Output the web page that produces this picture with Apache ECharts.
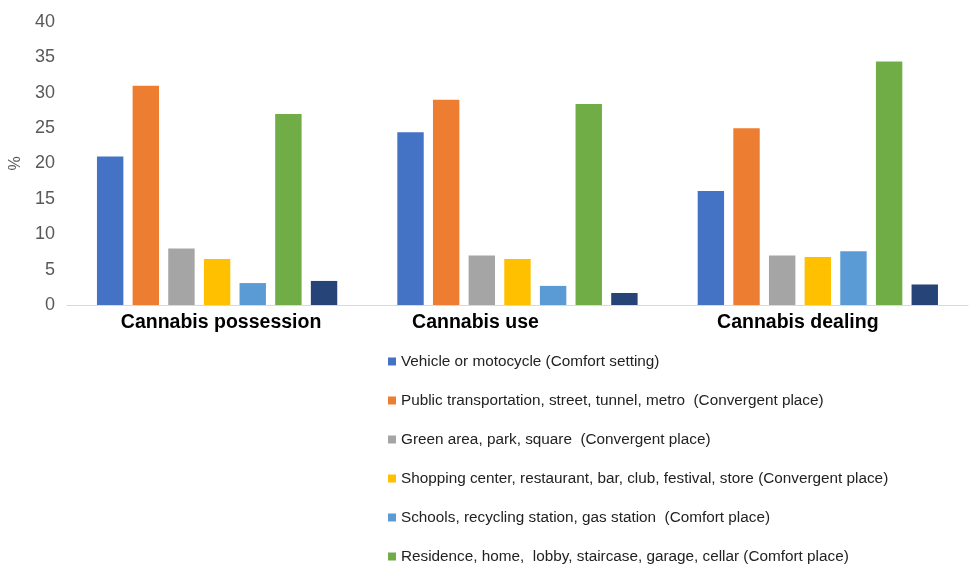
<!DOCTYPE html>
<html>
<head>
<meta charset="utf-8">
<script src="https://cdn.jsdelivr.net/npm/echarts@6/dist/echarts.min.js"></script>
<style>
  html, body { margin: 0; padding: 0; background: #fff; }
  #chart { width: 973px; height: 567px; }
</style>
</head>
<body>
<div id="chart"></div>
<script>
const categories = ["Cannabis possession", "Cannabis use", "Cannabis dealing"];
const seriesNames = [
  "Vehicle or motocycle (Comfort setting)",
  "Public transportation, street, tunnel, metro  (Convergent place)",
  "Green area, park, square  (Convergent place)",
  "Shopping center, restaurant, bar, club, festival, store (Convergent place)",
  "Schools, recycling station, gas station  (Comfort place)",
  "Residence, home,  lobby, staircase, garage, cellar (Comfort place)",
  "Other"
];
const vehicle = [21, 24.4, 16.1];
const publicTransport = [31, 29, 25];
const greenArea = [8, 7, 7];
const shopping = [6.5, 6.5, 6.8];
const schools = [3.1, 2.7, 7.6];
const residence = [27, 28.4, 34.4];
const other = [3.4, 1.7, 2.9];
const colors = ["#4472C4", "#ED7D31", "#A5A5A5", "#FFC000", "#5B9BD5", "#70AD47", "#264478"];

const values = [vehicle, publicTransport, greenArea, shopping, schools, residence, other];
// category labels in the original sit a little off the group centres
const labelPad = [[0, 0, 0, 8], [0, 84, 0, 0], [0, 40, 0, 0]];

const chart = echarts.init(document.getElementById("chart"));
chart.setOption({
  animation: false,
  color: colors,
  textStyle: { fontFamily: "Liberation Sans, Arial, sans-serif" },
  grid: { left: 64, right: 5, top: 22, bottom: 262 },
  legend: {
    orient: "vertical",
    left: 388,
    top: 354,
    height: 260,
    padding: 0,
    itemWidth: 8,
    itemHeight: 8,
    itemGap: 24,
    icon: "rect",
    data: seriesNames.slice(0, 6),
    textStyle: { fontSize: 15.3, color: "#222" }
  },
  xAxis: {
    type: "category",
    data: categories.map((c, i) => ({ value: c, textStyle: { padding: labelPad[i] } })),
    axisLine: { lineStyle: { color: "#d9d9d9" } },
    axisTick: { show: false },
    axisLabel: { fontSize: 19.5, fontWeight: "bold", color: "#000", margin: 8 }
  },
  yAxis: {
    type: "value",
    min: 0,
    max: 40,
    interval: 5,
    name: "%",
    nameLocation: "middle",
    nameGap: 42,
    nameTextStyle: { fontSize: 16, color: "#595959" },
    splitLine: { show: false },
    axisLine: { show: false },
    axisTick: { show: false },
    axisLabel: { fontSize: 18, color: "#595959", margin: 12 }
  },
  series: values.map((v, i) => ({
    name: seriesNames[i],
    type: "bar",
    data: v,
    barGap: "35%",
    barCategoryGap: "20%"
  }))
});
</script>
</body>
</html>
